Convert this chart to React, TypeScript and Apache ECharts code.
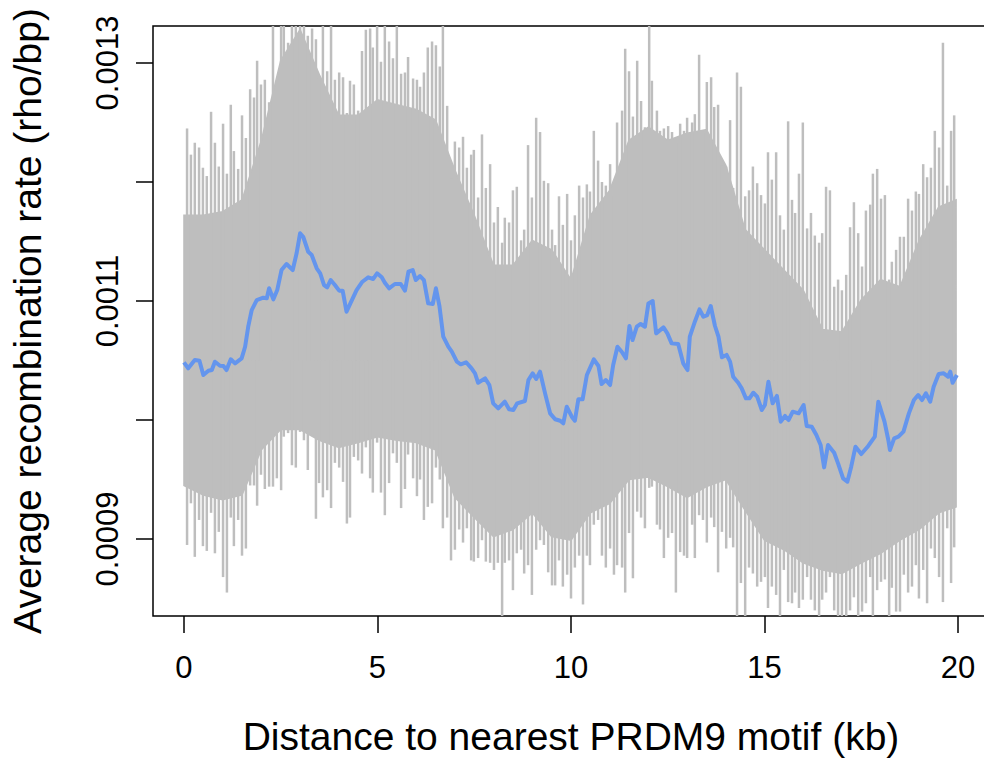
import React, { useEffect, useRef } from "react";
import * as echarts from "echarts";

// Axis ticks / labels
const xTicks = [0, 5, 10, 15, 20];
const yTicks = [0.0009, 0.001, 0.0011, 0.0012, 0.0013];
const yLabelValues = [0.0009, 0.0011, 0.0013];

// Grey permutation traces: positions (kb) of the outer spikes
const spikeX = [
  0.08, 0.18, 0.28, 0.39, 0.49, 0.59, 0.7, 0.8, 0.9, 1.01,
  1.11, 1.21, 1.29, 1.4, 1.5, 1.6, 1.71, 1.81, 1.89, 1.99,
  2.09, 2.2, 2.3, 2.4, 2.51, 2.58, 2.69, 2.79, 2.89, 3.0,
  3.1, 3.2, 3.31, 3.41, 3.49, 3.59, 3.7, 3.8, 3.9, 4.01,
  4.11, 4.21, 4.29, 4.39, 4.5, 4.6, 4.7, 4.81, 4.88, 4.99,
  5.09, 5.19, 5.3, 5.4, 5.5, 5.61, 5.71, 5.79, 5.92, 6.02,
  6.1, 6.2, 6.3, 6.41, 6.51, 6.61, 6.69, 6.8, 6.9, 7.0,
  7.11, 7.21, 7.31, 7.42, 7.49, 7.6, 7.7, 7.8, 7.91, 8.01,
  8.11, 8.22, 8.29, 8.4, 8.5, 8.6, 8.71, 8.79, 8.89, 8.99,
  9.1, 9.2, 9.3, 9.41, 9.51, 9.59, 9.69, 9.79, 9.9, 10.0,
  10.1, 10.21, 10.31, 10.41, 10.49, 10.59, 10.7, 10.8, 10.9, 11.01,
  11.11, 11.19, 11.32, 11.4, 11.5, 11.6, 11.71, 11.81, 11.91, 12.02,
  12.09, 12.22, 12.3, 12.4, 12.51, 12.61, 12.71, 12.82, 12.92, 13.0,
  13.13, 13.2, 13.31, 13.41, 13.51, 13.62, 13.7, 13.8, 13.9, 14.01,
  14.11, 14.19, 14.29, 14.39, 14.5, 14.6, 14.7, 14.81, 14.91, 15.01,
  15.09, 15.19, 15.3, 15.4, 15.5, 15.61, 15.71, 15.79, 15.89, 15.99,
  16.1, 16.2, 16.3, 16.41, 16.49, 16.59, 16.69, 16.8, 16.9, 17.0,
  17.11, 17.21, 17.31, 17.42, 17.52, 17.62, 17.73, 17.8, 17.91, 18.01,
  18.11, 18.22, 18.29, 18.4, 18.5, 18.6, 18.71, 18.81, 18.91, 18.99,
  19.1, 19.2, 19.3, 19.4, 19.51, 19.61, 19.72, 19.82, 19.9,
];

// Upper spike tips (rho/bp)
const spikeTop = [
  0.001245, 0.001223, 0.001233, 0.001229, 0.001212, 0.001205, 0.001259, 0.001233, 0.001213, 0.001249,
  0.001207, 0.001265, 0.001226, 0.001211, 0.001256, 0.001237, 0.001278, 0.001271, 0.001302, 0.001282,
  0.001286, 0.001267, 0.001334, 0.001282, 0.001334, 0.001334, 0.001317, 0.001334, 0.001334, 0.001334,
  0.00134, 0.001323, 0.001329, 0.00132, 0.001287, 0.001334, 0.001293, 0.001334, 0.001286, 0.001292,
  0.001288, 0.001258, 0.001285, 0.001282, 0.00126, 0.00131, 0.001328, 0.001329, 0.001313, 0.001334,
  0.001301, 0.001334, 0.001318, 0.001304, 0.001334, 0.001291, 0.001292, 0.001305, 0.001287, 0.001286,
  0.00128, 0.001292, 0.001313, 0.001318, 0.001315, 0.001297, 0.001334, 0.001264, 0.001203, 0.001234,
  0.001229, 0.001238, 0.001212, 0.001223, 0.001227, 0.001187, 0.00124, 0.001195, 0.001215, 0.001166,
  0.001179, 0.001149, 0.00117, 0.001166, 0.001193, 0.001196, 0.001151, 0.00116, 0.001231, 0.001187,
  0.001254, 0.001242, 0.001201, 0.001199, 0.00116, 0.001147, 0.001188, 0.001164, 0.00119, 0.001151,
  0.001172, 0.001197, 0.001187, 0.001198, 0.001192, 0.001243, 0.001218, 0.0012, 0.001197, 0.001215,
  0.001189, 0.00125, 0.00126, 0.001312, 0.001293, 0.001255, 0.001302, 0.001268, 0.001246, 0.001334,
  0.001285, 0.00126, 0.001243, 0.001245, 0.001247, 0.001242, 0.001233, 0.001249, 0.001243, 0.001254,
  0.00125, 0.001257, 0.001307, 0.001242, 0.001284, 0.001288, 0.001263, 0.001265, 0.001214, 0.001213,
  0.001252, 0.001195, 0.001292, 0.00128, 0.001188, 0.001193, 0.001213, 0.001199, 0.001189, 0.001182,
  0.001225, 0.001202, 0.001225, 0.001172, 0.00116, 0.001251, 0.001185, 0.001174, 0.001207, 0.00125,
  0.001161, 0.001174, 0.001155, 0.001149, 0.001157, 0.001196, 0.001193, 0.001112, 0.001118, 0.001109,
  0.001122, 0.001162, 0.001183, 0.001157, 0.001129, 0.001176, 0.001181, 0.001207, 0.001211, 0.001186,
  0.001189, 0.001118, 0.001133, 0.001143, 0.001154, 0.001154, 0.001186, 0.001176, 0.001192, 0.00119,
  0.001215, 0.001204, 0.001212, 0.001243, 0.001229, 0.001317, 0.001197, 0.001243, 0.001256,
];

// Lower spike tips (rho/bp)
const spikeBottom = [
  0.000895, 0.00093, 0.000885, 0.000916, 0.000894, 0.00089, 0.000922, 0.000888, 0.000906, 0.000868,
  0.000855, 0.000918, 0.000894, 0.000916, 0.000886, 0.000892, 0.000945, 0.000945, 0.000928, 0.000954,
  0.000942, 0.000944, 0.000944, 0.000951, 0.000941, 0.000986, 0.000989, 0.000962, 0.00096, 0.00099,
  0.000983, 0.000958, 0.00099, 0.000917, 0.000947, 0.000935, 0.000941, 0.000926, 0.000964, 0.00096,
  0.000948, 0.000913, 0.000918, 0.000969, 0.000966, 0.000955, 0.000977, 0.000951, 0.000939, 0.000981,
  0.000939, 0.00092, 0.000947, 0.000972, 0.000964, 0.000926, 0.000942, 0.000971, 0.000951, 0.000936,
  0.00095, 0.000916, 0.000927, 0.00093, 0.00096, 0.00095, 0.000909, 0.000918, 0.000882, 0.000891,
  0.000908, 0.000897, 0.000909, 0.000882, 0.000881, 0.000884, 0.000899, 0.000881, 0.00088, 0.000874,
  0.00088, 0.000826, 0.00088, 0.000882, 0.000857, 0.000888, 0.000891, 0.000871, 0.000878, 0.000853,
  0.000891, 0.000899, 0.000895, 0.000872, 0.000861, 0.000861, 0.000882, 0.00086, 0.00087, 0.00085,
  0.000876, 0.000886, 0.000845, 0.000886, 0.000878, 0.000912, 0.000916, 0.000886, 0.000876, 0.000892,
  0.00087, 0.000878, 0.000876, 0.000855, 0.000905, 0.000867, 0.000923, 0.000918, 0.000909, 0.000943,
  0.000944, 0.000912, 0.000908, 0.000884, 0.000901, 0.000905, 0.000855, 0.000889, 0.000886, 0.000884,
  0.000912, 0.000884, 0.00092, 0.000916, 0.000897, 0.000918, 0.00091, 0.000872, 0.000906, 0.000892,
  0.000901, 0.000893, 0.000826, 0.000863, 0.000826, 0.000876, 0.000871, 0.00086, 0.000864, 0.000868,
  0.000842, 0.00086, 0.000853, 0.000826, 0.000874, 0.000847, 0.000846, 0.000855, 0.000842, 0.000849,
  0.000868, 0.000849, 0.00084, 0.000826, 0.000849, 0.000855, 0.000868, 0.00084, 0.000826, 0.000826,
  0.000826, 0.00084, 0.000851, 0.000826, 0.000839, 0.000846, 0.000868, 0.000826, 0.000857, 0.000864,
  0.000866, 0.000826, 0.000859, 0.000839, 0.000839, 0.00087, 0.000855, 0.00086, 0.000878, 0.00085,
  0.000874, 0.000846, 0.000892, 0.000884, 0.000868, 0.000847, 0.000909, 0.000863, 0.000893,
];

// Dense core of the grey traces
const coreX = [
  0, 0.5, 1, 1.5, 2, 2.5, 3, 3.5, 4, 4.5, 5, 5.5, 6, 6.5, 7, 7.5, 8, 8.5, 9, 9.5,
  10, 10.5, 11, 11.5, 12, 12.5, 13, 13.5, 14, 14.5, 15, 15.5, 16, 16.5, 17, 17.5, 18, 18.5, 19, 19.5, 19.95,
];
const coreTop = [
  0.001172, 0.001172, 0.001175, 0.001185, 0.001235, 0.001302, 0.001328, 0.00129, 0.001256, 0.001256,
  0.001269, 0.001265, 0.001261, 0.001252, 0.00121, 0.001172, 0.00113, 0.00113, 0.001151, 0.001143,
  0.001118, 0.001172, 0.001193, 0.001235, 0.001246, 0.001235, 0.001241, 0.001244, 0.001214, 0.00116,
  0.001143, 0.001126, 0.001109, 0.001076, 0.001074, 0.001101, 0.001118, 0.001112, 0.001151, 0.001179, 0.001185,
];
const coreBottom = [
  0.000945, 0.000937, 0.000933, 0.000937, 0.000975, 0.000992, 0.000992, 0.000983, 0.000977, 0.000981,
  0.000986, 0.000983, 0.000981, 0.000975, 0.000935, 0.000918, 0.000902, 0.000908, 0.000922, 0.000902,
  0.000899, 0.000922, 0.00093, 0.00095, 0.000952, 0.000944, 0.000935, 0.000944, 0.00095, 0.000924,
  0.000899, 0.000891, 0.00088, 0.000874, 0.000871, 0.00088, 0.000888, 0.000899, 0.000908, 0.000922, 0.000927,
];

// Observed (blue) average recombination rate
const blueX = [
  0, 0.11, 0.28, 0.4, 0.5, 0.63, 0.72, 0.8, 0.93, 1.02, 1.1, 1.21, 1.32, 1.49, 1.58, 1.66, 1.75, 1.88,
  2.05, 2.14, 2.2, 2.31, 2.41, 2.52, 2.65, 2.81, 2.91, 3.0, 3.08, 3.21, 3.3, 3.43, 3.52, 3.62, 3.7, 3.79,
  3.9, 4.01, 4.1, 4.2, 4.3, 4.46, 4.61, 4.76, 4.89, 4.99, 5.11, 5.19, 5.3, 5.45, 5.6, 5.71, 5.8, 5.91,
  5.99, 6.1, 6.2, 6.31, 6.43, 6.51, 6.6, 6.7, 6.83, 6.92, 7.05, 7.15, 7.29, 7.43, 7.52, 7.6, 7.78, 7.89,
  7.99, 8.12, 8.29, 8.4, 8.51, 8.61, 8.81, 8.9, 9.01, 9.1, 9.2, 9.33, 9.46, 9.59, 9.72, 9.8, 9.89, 10.02,
  10.1, 10.19, 10.3, 10.41, 10.59, 10.71, 10.79, 10.9, 11.01, 11.09, 11.2, 11.31, 11.42, 11.51, 11.59,
  11.7, 11.8, 11.91, 12.0, 12.11, 12.2, 12.39, 12.49, 12.6, 12.77, 12.9, 13.01, 13.07, 13.2, 13.32,
  13.42, 13.52, 13.61, 13.72, 13.81, 13.9, 14.02, 14.11, 14.19, 14.32, 14.41, 14.52, 14.61, 14.71,
  14.81, 14.93, 15.01, 15.1, 15.21, 15.32, 15.42, 15.53, 15.62, 15.73, 15.88, 16.01, 16.09, 16.22,
  16.34, 16.45, 16.54, 16.64, 16.8, 16.9, 17.03, 17.14, 17.24, 17.35, 17.5, 17.68, 17.85, 17.94, 18.1,
  18.2, 18.24, 18.35, 18.46, 18.59, 18.73, 18.86, 18.97, 19.07, 19.17, 19.28, 19.37, 19.5, 19.63,
  19.74, 19.8, 19.86, 19.97,
];
const blueY = [
  0.0010485, 0.0010434, 0.0010504, 0.0010498, 0.0010378, 0.0010414, 0.001042, 0.001049, 0.0010456,
  0.0010454, 0.001042, 0.001051, 0.0010476, 0.0010518, 0.0010616, 0.0010784, 0.0010924, 0.0011008,
  0.0011028, 0.0011023, 0.0011107, 0.0011014, 0.0011092, 0.001126, 0.0011311, 0.001126, 0.0011401,
  0.0011569, 0.001154, 0.0011414, 0.0011387, 0.0011275, 0.0011233, 0.0011134, 0.0011115, 0.0011176,
  0.0011134, 0.0011087, 0.0011087, 0.001091, 0.001098, 0.0011092, 0.0011162, 0.0011199, 0.0011185,
  0.0011233, 0.0011199, 0.0011154, 0.0011107, 0.0011143, 0.0011143, 0.0011087, 0.0011246, 0.001126,
  0.0011176, 0.001121, 0.0011176, 0.001098, 0.0010975, 0.0011107, 0.001096, 0.00107, 0.0010616,
  0.0010574, 0.001049, 0.0010468, 0.0010485, 0.0010434, 0.0010392, 0.0010313, 0.001035, 0.0010294,
  0.001014, 0.0010098, 0.0010154, 0.001009, 0.0010084, 0.001014, 0.001016, 0.0010336, 0.0010392,
  0.0010345, 0.0010406, 0.0010224, 0.0010056, 0.0010006, 0.0009994, 0.0009972, 0.0010112, 0.0010028,
  0.0009994, 0.0010174, 0.0010174, 0.0010378, 0.001051, 0.0010454, 0.0010302, 0.0010336, 0.0010294,
  0.0010462, 0.0010616, 0.0010574, 0.0010518, 0.001079, 0.0010672, 0.0010784, 0.0010807, 0.0010784,
  0.001098, 0.0011, 0.0010728, 0.0010778, 0.0010728, 0.0010644, 0.0010639, 0.0010476, 0.001042,
  0.00107, 0.0010826, 0.001093, 0.0010868, 0.0010882, 0.0010958, 0.001079, 0.00107, 0.0010527,
  0.0010547, 0.001049, 0.0010364, 0.0010313, 0.0010266, 0.0010182, 0.0010182, 0.0010229, 0.0010196,
  0.0010084, 0.0010126, 0.0010322, 0.001014, 0.0010202, 0.0009986, 0.0010034, 0.001, 0.001007,
  0.0010056, 0.0010126, 0.000995, 0.0009944, 0.0009874, 0.000979, 0.0009602, 0.000979, 0.0009725,
  0.0009636, 0.000951, 0.0009482, 0.0009608, 0.0009776, 0.0009714, 0.0009782, 0.000986, 0.0010154,
  0.0009986, 0.000983, 0.0009748, 0.0009846, 0.000986, 0.0009902, 0.0010056, 0.0010168, 0.001021,
  0.0010168, 0.0010224, 0.0010154, 0.001028, 0.0010387, 0.0010392, 0.0010364, 0.0010406, 0.0010313,
  0.0010378,
];

const SPIKE_BASE = 0.00105;
const GREY = "#BEBEBE";
const FONT = "'Liberation Sans', Arial, Helvetica, sans-serif";

function spikeSeries(values: number[]) {
  return {
    type: "custom",
    coordinateSystem: "cartesian2d",
    clip: true,
    silent: true,
    z: 2,
    data: spikeX.map((x, i) => [x, values[i]]),
    encode: { x: 0, y: 1 },
    renderItem: (params: any, api: any) => {
      const x = api.value(0);
      const p = api.coord([x, api.value(1)]);
      const b = api.coord([x, SPIKE_BASE]);
      return {
        type: "line",
        shape: { x1: p[0], y1: p[1], x2: b[0], y2: b[1] },
        style: { stroke: GREY, lineWidth: 2.5 },
      };
    },
  };
}

export default function App() {
  const ref = useRef<HTMLDivElement>(null);
  useEffect(() => {
    if (!ref.current) return;
    const chart = echarts.init(ref.current, null, { renderer: "svg" });
    const option: any = {
      animation: false,
      backgroundColor: "#ffffff",
      grid: {
        left: 153,
        top: 26,
        right: -5,
        bottom: 144,
        show: true,
        borderColor: "#000",
        borderWidth: 1.5,
        backgroundColor: "transparent",
        containLabel: false,
        outerBoundsMode: "none",
      },
      xAxis: {
        type: "value",
        min: -0.8,
        max: 20.8,
        axisLine: { show: false, onZero: false },
        splitLine: { show: false },
        axisTick: {
          show: true,
          inside: false,
          length: 17,
          customValues: xTicks,
          lineStyle: { color: "#000", width: 1.5 },
        },
        axisLabel: {
          customValues: xTicks,
          margin: 36,
          fontSize: 31,
          color: "#000",
          fontFamily: FONT,
          formatter: (v: number) => String(v),
        },
        name: "Distance to nearest PRDM9 motif (kb)",
        nameLocation: "middle",
        nameGap: 101,
        nameTextStyle: { fontSize: 39, color: "#000", fontFamily: FONT },
      },
      yAxis: {
        type: "value",
        min: 0.0008353,
        max: 0.0013311,
        axisLine: { show: false, onZero: false },
        splitLine: { show: false },
        axisTick: {
          show: true,
          inside: false,
          length: 17,
          customValues: yTicks,
          lineStyle: { color: "#000", width: 1.5 },
        },
        axisLabel: {
          customValues: yLabelValues,
          rotate: 90,
          margin: 30,
          fontSize: 31,
          color: "#000",
          fontFamily: FONT,
          formatter: (v: number) => v.toFixed(4),
        },
        name: "Average recombination rate (rho/bp)",
        nameLocation: "middle",
        nameRotate: 90,
        nameGap: 106,
        nameTextStyle: { fontSize: 39, color: "#000", fontFamily: FONT },
      },
      series: [
        {
          type: "custom",
          coordinateSystem: "cartesian2d",
          clip: true,
          silent: true,
          z: 1,
          data: coreX.map((x, i) => [x, coreTop[i], coreBottom[i]]),
          encode: { x: 0, y: 1 },
          renderItem: (params: any, api: any) => {
            if (params.dataIndex !== 0) return { type: "group", children: [] };
            const pts: number[][] = [];
            for (let i = 0; i < coreX.length; i++) pts.push(api.coord([coreX[i], coreTop[i]]));
            for (let i = coreX.length - 1; i >= 0; i--) pts.push(api.coord([coreX[i], coreBottom[i]]));
            return {
              type: "polygon",
              shape: { points: pts },
              style: { fill: GREY, stroke: GREY, lineWidth: 1.5 },
            };
          },
        },
        spikeSeries(spikeTop),
        spikeSeries(spikeBottom),
        {
          type: "line",
          data: blueX.map((x, i) => [x, blueY[i]]),
          showSymbol: false,
          symbol: "none",
          clip: true,
          z: 10,
          lineStyle: { color: "#6495ED", width: 4, join: "round" },
        },
      ],
    };
    chart.setOption(option);
    return () => chart.dispose();
  }, []);
  return (
    <div
      ref={ref}
      style={{ position: "fixed", left: 0, top: 0, width: 984, height: 760, background: "#fff" }}
    />
  );
}
